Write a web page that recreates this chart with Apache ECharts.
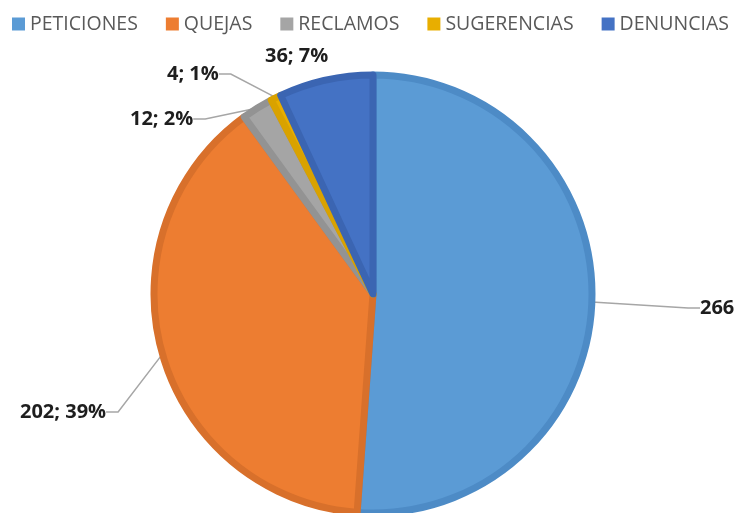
<!DOCTYPE html>
<html>
<head>
<meta charset="utf-8">
<script src="https://cdn.jsdelivr.net/npm/echarts@6/dist/echarts.min.js"></script>
<style>
  html, body { margin: 0; padding: 0; background: #fff; }
  #chart { width: 741px; height: 513px; }
</style>
</head>
<body>
<div id="chart"></div>
<script>
// datos
const categories = ["PETICIONES", "QUEJAS", "RECLAMOS", "SUGERENCIAS", "DENUNCIAS"];
const values = [266, 202, 12, 4, 36];

const fillColors = ["#5B9BD5", "#ED7D31", "#A5A5A5", "#E8AE00", "#4472C4"];
const borderColors = ["#4D8BC6", "#D8702B", "#939393", "#D9A200", "#3B65B2"];
// posicion de las etiquetas (borde izquierdo del texto, centro vertical)
const labelSpots = [[700, 308], [20, 412], [130, 119], [167, 74], [265, 56]];

const chart = echarts.init(document.getElementById("chart"));

const option = {
  animation: false,
  color: fillColors,
  legend: {
    top: 9,
    left: 7,
    itemWidth: 13,
    itemHeight: 13,
    itemGap: 28,
    icon: "rect",
    itemStyle: { borderWidth: 0 },
    textStyle: {
      color: "#595959",
      fontSize: 19.5,
      fontFamily: "Open Sans"
    },
    data: categories
  },
  series: [
    {
      type: "pie",
      center: [373, 294],
      radius: 219,
      startAngle: 90,
      clockwise: true,
      avoidLabelOverlap: false,
      percentPrecision: 0,
      label: {
        show: true,
        position: "outside",
        color: "#1E1E1E",
        fontSize: 20,
        fontWeight: "bold",
        fontFamily: "Open Sans",
        formatter: function (p) {
          if (p.dataIndex === 0) return p.value;
          return p.value + "; " + p.percent + "%";
        }
      },
      labelLine: {
        length: 20,
        length2: 12,
        lineStyle: { color: "#A6A6A6", width: 1.5 }
      },
      labelLayout: function (params) {
        const spot = labelSpots[params.dataIndex];
        return {
          x: spot[0],
          y: spot[1],
          align: "left",
          verticalAlign: "middle"
        };
      },
      data: categories.map(function (name, i) {
        return {
          name: name,
          value: values[i],
          itemStyle: {
            color: fillColors[i],
            borderColor: borderColors[i],
            borderWidth: 7
          },
          labelLine: { show: i !== 4 }
        };
      })
    }
  ]
};

chart.setOption(option);
</script>
</body>
</html>
